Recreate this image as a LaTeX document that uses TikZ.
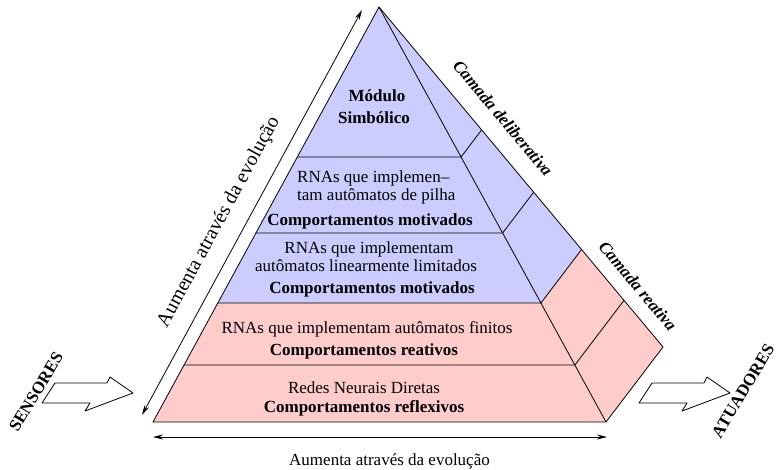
\documentclass[tikz,border=0pt]{standalone}
\usepackage{fontspec}
\setmainfont{Liberation Serif}
\usetikzlibrary{arrows.meta,calc}
\definecolor{delib}{RGB}{204,204,255}
\definecolor{react}{RGB}{255,204,204}
\begin{document}
\begin{tikzpicture}[x=1pt,y=-1pt,line join=round,
  edge/.style={draw=black,line width=0.8pt},
  txt/.style={font=\fontsize{17}{20}\selectfont,inner sep=0pt,anchor=base},
  btxt/.style={font=\fontsize{17}{20}\selectfont\bfseries,inner sep=0pt,anchor=base},
  layername/.style={font=\fontsize{17}{20}\selectfont\bfseries\itshape,inner sep=0pt,rotate=-50.1},
  iolabel/.style={font=\fontsize{17}{20}\selectfont\bfseries,inner sep=0pt,rotate=59},
  evol/.style={{Stealth[length=10pt,width=5pt]}-{Stealth[length=10pt,width=5pt]},line width=0.8pt},
  blockarrow/.style={draw=black,fill=white,line width=0.8pt}]
\useasboundingbox (0,0) rectangle (778,469);

% pyramid corners: apex, front base, right base corner
\coordinate (A) at (379,7);
\coordinate (BL) at (153,422);
\coordinate (BR) at (606,422);
\coordinate (R) at (663,347);
% layer boundaries on the left edge, front-right edge and outer edge
\foreach \n/\s in {a/0.3614,b/0.5446,c/0.7133,d/0.8627}{
  \coordinate (L\n) at ($(A)!\s!(BL)$);
  \coordinate (F\n) at ($(A)!\s!(BR)$);
  \coordinate (O\n) at ($(A)!\s!(R)$);
}

% deliberative (upper) and reactive (lower) parts
\fill[delib] (A) -- (Lc) -- (Fc) -- cycle;
\fill[delib] (A) -- (Fc) -- (Oc) -- cycle;
\fill[react] (Lc) -- (BL) -- (BR) -- (Fc) -- cycle;
\fill[react] (Fc) -- (BR) -- (R) -- (Oc) -- cycle;

% outline and layer lines
\draw[edge] (A) -- (BL) -- (BR) -- (R) -- cycle;
\draw[edge] (A) -- (BR);
\foreach \n in {a,b,c,d}{\draw[edge] (L\n) -- (F\n) -- (O\n);}

% layer texts
\node[btxt] (mod1) at (377,101) {Módulo};
\node[btxt] (mod2) at (374,123) {Simbólico};

\node[txt,anchor=base west] (pil1) at (297,182) {RNAs que implemen--};
\node[txt,anchor=base west] (pil2) at (297,200) {tam autômatos de pilha};
\node[btxt] (pil3) at (370,225) {Comportamentos motivados};

\node[txt] (lin1) at (369,253) {RNAs que implementam};
\node[txt] (lin2) at (366,271) {autômatos linearmente limitados};
\node[btxt] (lin3) at (372,293) {Comportamentos motivados};

\node[txt] (fin1) at (367,333) {RNAs que implementam autômatos finitos};
\node[btxt] (fin2) at (364,355) {Comportamentos reativos};

\node[txt] (ref1) at (364,393) {Redes Neurais Diretas};
\node[btxt] (ref2) at (364,412) {Comportamentos reflexivos};

% layer names along the outer edge
\node[layername] (cdel) at (503,118) {Camada deliberativa};
\node[layername] (crea) at (638,286) {Camada reativa};

% evolution arrows
\coordinate (e1) at (142,415);
\coordinate (e2) at (362,10);
\draw[evol] (e1) -- (e2);
\node[font=\fontsize{20}{24}\selectfont,inner sep=0pt,rotate=61.5] (evl) at (219,222) {Aumenta através da evolução};

\coordinate (h1) at (153,437);
\coordinate (h2) at (607,437);
\draw[evol] (h1) -- (h2);
\node[txt] (evb) at (389.5,465) {Aumenta através da evolução};

% sensor input and actuator output
\coordinate (tipS) at (133,393);
\coordinate (tipT) at (730,393);
\draw[blockarrow,shift={(tipS)}] (-78,-10) -- (-26,-10) -- (-23,-16) -- (0,0) -- (-48,18) -- (-43,10) -- (-91,10) -- cycle;
\draw[blockarrow,shift={(tipT)}] (-78,-10) -- (-26,-10) -- (-23,-16) -- (0,0) -- (-48,18) -- (-43,10) -- (-91,10) -- cycle;
\node[iolabel] (sens) at (36,392) {SENSORES};
\node[iolabel] (atua) at (743,391) {ATUADORES};
\end{tikzpicture}
\end{document}
